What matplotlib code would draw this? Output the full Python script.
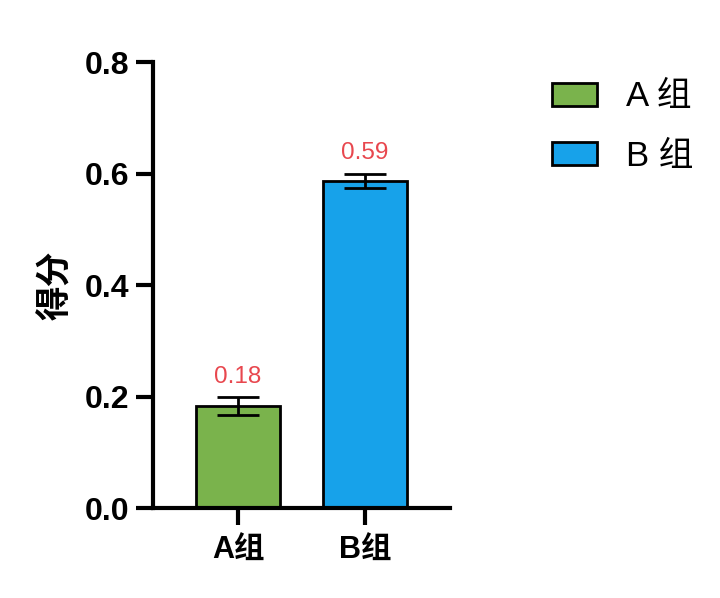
import matplotlib
matplotlib.use("Agg")
import matplotlib.pyplot as plt
from matplotlib.patches import Patch

categories = ["A组", "B组"]
legend_labels = ["A 组", "B 组"]
means = [0.183, 0.587]
errors = [0.016, 0.013]
value_labels = ["0.18", "0.59"]
colors = ["#7AB34C", "#17A2EA"]
yticks = [0.0, 0.2, 0.4, 0.6, 0.8]

FONTS = ["Liberation Sans", "Noto Sans CJK SC"]
plt.rcParams["font.family"] = FONTS

fig = plt.figure(figsize=(7.2, 5.98), dpi=100)
ax = fig.add_axes([0.2125, 0.1505, 0.4125, 0.7458])

x = list(range(len(categories)))
ax.bar(x, means, width=0.66, color=colors, edgecolor="black", linewidth=2,
       zorder=2)
ax.errorbar(x, means, yerr=errors, fmt="none", ecolor="black",
            elinewidth=2, capsize=15, capthick=2, zorder=3)

for xi, m, e, lab in zip(x, means, errors, value_labels):
    ax.text(xi, m + e + 0.017, lab, ha="center", va="bottom",
            color="#E8474E", fontsize=17.5)

ax.set_xlim(-0.67, 1.67)
ax.set_ylim(0, 0.8)
ax.set_yticks(yticks)
ax.set_yticklabels([f"{v:.1f}" for v in yticks])
ax.set_xticks(x)
ax.set_xticklabels(categories)

for s in ("top", "right"):
    ax.spines[s].set_visible(False)
for s in ("left", "bottom"):
    ax.spines[s].set_linewidth(3)

ax.tick_params(axis="both", length=12, width=3, labelsize=22)
ax.tick_params(axis="y", labelsize=23, pad=5)
ax.tick_params(axis="x", pad=8)
for t in ax.get_xticklabels() + ax.get_yticklabels():
    t.set_fontweight("bold")

ax.set_ylabel("得分", fontsize=25, fontweight="bold", labelpad=8)

handles = [Patch(facecolor=c, edgecolor="black", linewidth=2) for c in colors]
fig.legend(handles, legend_labels, loc="upper left",
           bbox_to_anchor=(0.723, 0.918), frameon=False, fontsize=25,
           handlelength=1.3, handleheight=0.64, handletextpad=0.84,
           labelspacing=0.77)

fig.savefig("out.png", dpi=100)
